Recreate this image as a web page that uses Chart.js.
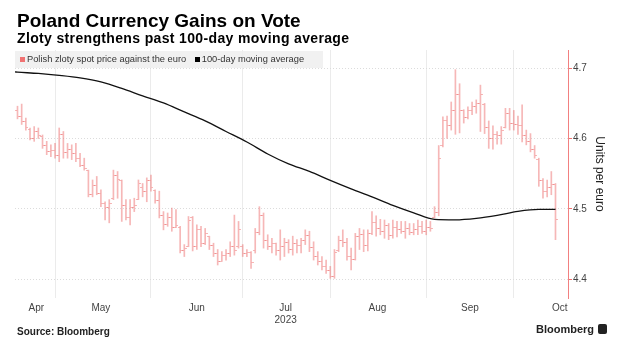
<!DOCTYPE html>
<html>
<head>
<meta charset="utf-8">
<script src="https://cdn.jsdelivr.net/npm/chart.js@4.4.0/dist/chart.umd.min.js"></script>
<style>
  body { margin: 0; background: #fff; }
  #wrap { position: relative; width: 619px; height: 352px; overflow: hidden; font-family: "Liberation Sans", Arial, sans-serif; }
  #chart { position: absolute; left: 0; top: 0; }
  .title { position: absolute; left: 17px; top: 11px; font-size: 19px; line-height: 19px; font-weight: bold; color: #000; white-space: nowrap; }
  .sub { position: absolute; left: 17px; top: 31px; font-size: 14px; line-height: 14px; font-weight: bold; letter-spacing: 0.35px; color: #000; white-space: nowrap; }
  .legend { position: absolute; left: 15px; top: 51px; width: 308px; height: 17px; background: rgba(238,238,238,0.85); font-size: 9.3px; line-height: 17px; color: #333; white-space: nowrap; }
  .legend i { display: inline-block; width: 5px; height: 5px; margin: 0 2px 0 5px; vertical-align: 0px; }
  .src { position: absolute; left: 17px; top: 326px; font-size: 10px; font-weight: bold; color: #222; }
  .logo { position: absolute; left: 536px; top: 323px; font-size: 11px; font-weight: bold; color: #222; }
  .logo span { display: inline-block; width: 9px; height: 10px; background: #222; border-radius: 2px; margin-left: 4px; vertical-align: -1px; }
</style>
</head>
<body>
<div id="wrap">
  <canvas id="chart" width="619" height="352"></canvas>
  <div class="title">Poland Currency Gains on Vote</div>
  <div class="sub">Zloty strengthens past 100-day moving average</div>
  <div class="legend"><i style="background:#f07272"></i>Polish zloty spot price against the euro <i style="background:#000;margin-left:6px"></i>100-day moving average</div>
  <div class="src">Source: Bloomberg</div>
  <div class="logo">Bloomberg<span></span></div>
</div>
<script>
// daily bars, Apr 18 - Oct 16 2023 (weekdays), index 0..129
const highs = [
  4.646,4.649,4.629,4.615,4.617,4.615,4.605,4.596,4.591,4.593,
  4.615,4.610,4.593,4.591,4.593,4.579,4.572,4.555,4.541,4.546,
  4.527,4.510,4.513,4.555,4.553,4.541,4.513,4.513,4.515,4.541,
  4.536,4.544,4.548,4.527,4.525,4.496,4.494,4.501,4.499,4.475,
  4.449,4.489,4.489,4.477,4.475,4.472,4.461,4.451,4.442,4.439,
  4.442,4.453,4.491,4.482,4.449,4.442,4.439,4.472,4.503,4.494,
  4.463,4.458,4.451,4.470,4.458,4.456,4.461,4.456,4.458,4.470,
  4.468,4.453,4.439,4.432,4.427,4.418,4.442,4.461,4.470,4.458,
  4.444,4.465,4.472,4.470,4.470,4.496,4.490,4.485,4.484,4.479,
  4.484,4.482,4.482,4.482,4.479,4.479,4.484,4.482,4.484,4.482,
  4.503,4.590,4.631,4.632,4.652,4.698,4.678,4.641,4.645,4.652,
  4.655,4.676,4.650,4.625,4.618,4.610,4.617,4.643,4.643,4.640,
  4.632,4.648,4.612,4.607,4.590,4.572,4.543,4.541,4.553,4.536
];
const lows = [
  4.628,4.620,4.612,4.598,4.596,4.600,4.586,4.577,4.574,4.572,
  4.567,4.572,4.572,4.570,4.567,4.560,4.555,4.517,4.517,4.520,
  4.503,4.484,4.480,4.513,4.515,4.482,4.484,4.477,4.496,4.513,
  4.517,4.510,4.525,4.508,4.487,4.470,4.475,4.468,4.473,4.437,
  4.432,4.446,4.440,4.442,4.446,4.449,4.442,4.432,4.420,4.425,
  4.427,4.432,4.434,4.444,4.432,4.432,4.415,4.437,4.463,4.444,
  4.442,4.437,4.434,4.427,4.432,4.437,4.434,4.437,4.437,4.449,
  4.439,4.427,4.420,4.413,4.408,4.401,4.401,4.439,4.446,4.427,
  4.413,4.427,4.442,4.439,4.440,4.463,4.461,4.463,4.458,4.456,
  4.458,4.460,4.465,4.458,4.463,4.463,4.463,4.465,4.463,4.468,
  4.487,4.490,4.588,4.600,4.612,4.606,4.608,4.622,4.628,4.634,
  4.636,4.610,4.607,4.586,4.585,4.592,4.592,4.615,4.612,4.612,
  4.606,4.595,4.591,4.581,4.572,4.532,4.515,4.517,4.520,4.456
];
const opens = [
  4.640,4.632,4.624,4.613,4.600,4.610,4.603,4.590,4.582,4.583,
  4.576,4.606,4.580,4.585,4.578,4.572,4.562,4.555,4.520,4.533,
  4.522,4.507,4.502,4.515,4.548,4.540,4.505,4.487,4.502,4.513,
  4.530,4.525,4.540,4.526,4.512,4.490,4.478,4.487,4.474,4.474,
  4.440,4.446,4.487,4.447,4.470,4.450,4.460,4.448,4.436,4.425,
  4.434,4.436,4.447,4.446,4.446,4.436,4.438,4.440,4.466,4.490,
  4.455,4.446,4.450,4.440,4.446,4.452,4.442,4.450,4.448,4.455,
  4.462,4.445,4.432,4.425,4.418,4.412,4.404,4.440,4.455,4.452,
  4.432,4.428,4.460,4.463,4.448,4.465,4.480,4.472,4.468,4.476,
  4.462,4.474,4.470,4.468,4.472,4.466,4.470,4.475,4.468,4.474,
  4.488,4.494,4.590,4.625,4.618,4.640,4.662,4.640,4.630,4.640,
  4.645,4.650,4.648,4.615,4.600,4.606,4.604,4.615,4.635,4.622,
  4.620,4.618,4.605,4.596,4.585,4.570,4.540,4.525,4.530,4.534
];
const closes = [
  4.632,4.624,4.615,4.600,4.610,4.604,4.590,4.582,4.583,4.576,
  4.606,4.580,4.585,4.578,4.572,4.562,4.557,4.520,4.533,4.522,
  4.507,4.502,4.508,4.548,4.542,4.505,4.487,4.502,4.505,4.536,
  4.525,4.540,4.530,4.512,4.490,4.478,4.487,4.474,4.476,4.440,
  4.444,4.484,4.447,4.470,4.450,4.465,4.448,4.436,4.425,4.434,
  4.436,4.447,4.440,4.470,4.436,4.438,4.424,4.466,4.490,4.455,
  4.446,4.450,4.440,4.446,4.452,4.442,4.450,4.448,4.455,4.462,
  4.445,4.432,4.425,4.418,4.412,4.404,4.438,4.455,4.452,4.432,
  4.428,4.460,4.463,4.448,4.465,4.480,4.472,4.468,4.476,4.462,
  4.474,4.470,4.468,4.472,4.466,4.470,4.475,4.468,4.474,4.472,
  4.494,4.572,4.625,4.618,4.640,4.662,4.640,4.630,4.640,4.645,
  4.650,4.662,4.615,4.600,4.606,4.604,4.612,4.635,4.622,4.620,
  4.618,4.605,4.596,4.585,4.576,4.540,4.525,4.530,4.535,4.485
];

// 100-day moving average, read at every 5th bar
const maDays = [-0.6,0,5,10,15,20,25,30,35,40,45,50,55,60,65,70,75,80,85,90,95,100,105,110,115,120,125,129];
const maValues = [4.6948,4.6945,4.6926,4.6898,4.6862,4.6805,4.6713,4.6606,4.6506,4.6378,4.6250,4.6100,4.5950,4.5780,4.5639,4.5532,4.5404,4.5283,4.5169,4.5048,4.4942,4.4849,4.4842,4.4863,4.4906,4.4963,4.4991,4.4991];

// x axis: month boundaries (grid) and month label positions (bar index)
const monthStarts = [9, 32, 54, 75, 98, 119];
const monthLabels = ['Apr', 'May', 'Jun', ['Jul', '2023'], 'Aug', 'Sep', 'Oct'];
const monthCenters = [4.5, 20, 43, 64.3, 86.3, 108.5, 130];
const yTicks = [4.4, 4.5, 4.6, 4.7];

const barColor = 'rgba(238,112,112,0.5)';

function tickImage(side) {
    const c = document.createElement('canvas');
    c.width = 5;
    c.height = 1;
    const g = c.getContext('2d');
    g.fillStyle = barColor;
    g.fillRect(side === 'left' ? 0 : 3, 0, 2, 1);
    return c;
}

const ctx = document.getElementById('chart');

new Chart(ctx, {
    type: 'bar',
    data: {
        datasets: [
            {
                type: 'line',
                label: '100-day moving average',
                data: maDays.map((d, i) => ({x: d, y: maValues[i]})),
                borderColor: '#111',
                borderWidth: 1.3,
                pointRadius: 0,
                cubicInterpolationMode: 'monotone',
                order: 0
            },
            {
                type: 'bar',
                label: 'Polish zloty spot price against the euro',
                data: highs.map((h, i) => ({x: i, y: [lows[i], h]})),
                backgroundColor: barColor,
                barThickness: 1,
                order: 3
            },
            {
                type: 'scatter',
                label: 'open',
                data: opens.map((v, i) => ({x: i, y: v})),
                pointStyle: tickImage('left'),
                pointRadius: 2,
                order: 2
            },
            {
                type: 'scatter',
                label: 'close',
                data: closes.map((v, i) => ({x: i, y: v})),
                pointStyle: tickImage('right'),
                pointRadius: 2,
                order: 2
            }
        ]
    },
    options: {
        responsive: false,
        animation: false,
        layout: {padding: {left: 15, top: 50, right: 12, bottom: 0}},
        plugins: {
            legend: {display: false},
            tooltip: {enabled: false}
        },
        scales: {
            x: {
                type: 'linear',
                min: -0.6,
                max: 132,
                bounds: 'data',
                offset: false,
                afterBuildTicks: s => {
                    s.ticks = monthStarts.concat(monthCenters).map(v => ({value: v}));
                },
                afterFit: s => { s.height = 54; },
                ticks: {
                    autoSkip: false,
                    maxRotation: 0,
                    padding: 4,
                    color: '#444',
                    font: {family: 'Liberation Sans', size: 10},
                    callback: v => {
                        const k = monthCenters.indexOf(v);
                        return k >= 0 ? monthLabels[k] : '';
                    }
                },
                grid: {
                    offset: false,
                    drawTicks: false,
                    color: c => (c.tick && monthStarts.includes(c.tick.value)) ? '#ebebeb' : 'rgba(0,0,0,0)'
                },
                border: {display: false}
            },
            y: {
                position: 'right',
                min: 4.373,
                max: 4.726,
                bounds: 'data',
                afterBuildTicks: s => {
                    s.ticks = yTicks.map(v => ({value: v}));
                },
                afterFit: s => { s.width = 39; },
                ticks: {
                    padding: 1,
                    color: '#444',
                    font: {family: 'Liberation Sans', size: 10},
                    callback: v => v.toFixed(1)
                },
                grid: {
                    color: '#dcdcdc',
                    tickColor: '#f07070',
                    tickLength: 4,
                    tickBorderDash: []
                },
                border: {color: '#f28080', width: 1, dash: [1, 2]},
                title: {
                    display: true,
                    text: 'Units per euro',
                    color: '#222',
                    padding: 0,
                    font: {family: 'Liberation Sans', size: 12}
                }
            }
        }
    }
});
</script>
</body>
</html>
